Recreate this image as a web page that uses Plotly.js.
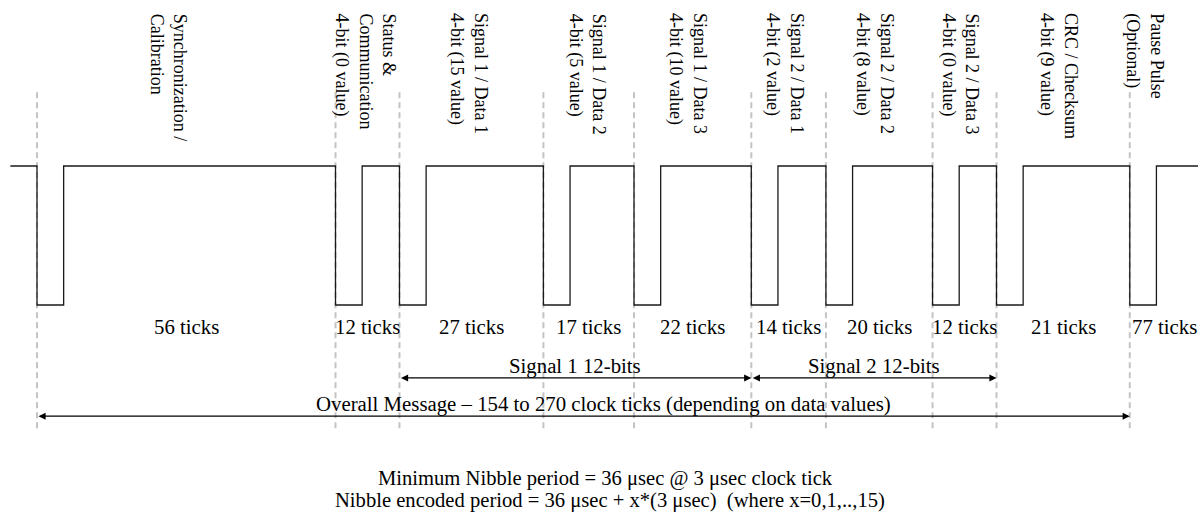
<!DOCTYPE html>
<html>
<head>
<meta charset="utf-8">
<script src="https://cdn.plot.ly/plotly-3.0.1.min.js"></script>
<style>html,body{margin:0;padding:0;background:#fff;}#chart{width:1198px;height:517px;}</style>
</head>
<body>
<div id="chart"></div>
<script>
// ---- data ----
// nibble names (rotated labels above each slot)
const slotNames = [
  "Synchronization /<br>Calibration",
  "Status &amp;<br>Communication<br>4-bit (0 value)",
  "Signal 1 / Data 1<br>4-bit (15 value)",
  "Signal 1 / Data 2<br>4-bit (5 value)",
  "Signal 1 / Data 3<br>4-bit (10 value)",
  "Signal 2 / Data 1<br>4-bit (2 value)",
  "Signal 2 / Data 2<br>4-bit (8 value)",
  "Signal 2 / Data 3<br>4-bit (0 value)",
  "CRC / Checksum<br>4-bit (9 value)",
  "Pause Pulse<br>(Optional)"
];
// clock ticks written under each slot
const slotTicks = [56, 12, 27, 17, 22, 14, 20, 12, 21, 77];
// slot widths as drawn in the figure, in ticks (CRC slot is drawn wider than 21)
const drawnWidth = [56, 12, 27, 17, 22, 14, 20, 12, 25];
const lowPulseTicks = 5;   // low part of each falling-edge pulse
const leadInTicks = 5;     // idle high before the first pulse
// arrows: [start slot index, end slot index, label]
const spanStart = [2, 5, 0];
const spanEnd = [5, 8, 9];
const spanLabel = ["Signal 1 12-bits", "Signal 2 12-bits",
  "Overall Message – 154 to 270 clock ticks (depending on data values)"];
const footnote = ["Minimum Nibble period = 36 μsec @ 3 μsec clock tick",
  "Nibble encoded period = 36 μsec + x*(3 μsec)  (where x=0,1,..,15)"];

// ---- geometry ----
const HIGH = 1, LOW = 0;
const bounds = [0];
drawnWidth.forEach(w => bounds.push(bounds[bounds.length - 1] + w));
const XMAX = 217.8;

// signal waveform
const sx = [-leadInTicks], sy = [HIGH];
bounds.forEach(b => {
  sx.push(b, b, b + lowPulseTicks, b + lowPulseTicks);
  sy.push(HIGH, LOW, LOW, HIGH);
});
sx.push(XMAX + 5); sy.push(HIGH);

const traces = [{
  x: sx, y: sy, type: 'scatter', mode: 'lines',
  line: {color: '#1a1a1a', width: 1.3}, hoverinfo: 'skip', showlegend: false
}];

const shapes = bounds.map(b => ({
  type: 'line', xref: 'x', yref: 'y', x0: b, x1: b, y0: 1.53, y1: -0.9,
  line: {color: '#c4c4c4', width: 2, dash: '6px,4px'}, layer: 'below'
}));

const serif = 'Liberation Serif, Times New Roman, serif';
const BIG = 20.8;
const annotations = [];
// rotated slot labels
const labelShift = [-3.4, -0.5, -0.5, -0.3, -0.9, -0.7, -0.8, -0.8, -0.9];
slotNames.forEach((t, i) => {
  const cx = i < drawnWidth.length ? (bounds[i] + bounds[i + 1]) / 2 + labelShift[i] : bounds[i] + 2.7;
  annotations.push({
    x: cx, xref: 'x', y: 0.978, yref: 'paper', text: t, textangle: 90,
    showarrow: false, xanchor: 'center', yanchor: 'top', align: 'left',
    font: {family: serif, size: 18, color: '#000'}
  });
});
// tick counts
slotTicks.forEach((n, i) => {
  const last = i >= drawnWidth.length;
  annotations.push({
    x: last ? bounds[i] : (bounds[i] + bounds[i + 1]) / 2, xref: 'x', y: -0.158, yref: 'y',
    text: n + ' ticks', showarrow: false, xanchor: last ? 'left' : 'center', yanchor: 'middle',
    font: {family: serif, size: BIG, color: '#000'}
  });
});
// span arrows
const arrowY = [-0.525, -0.525, -0.80];
const spanTextShift = [0, 0, 3.7];
spanLabel.forEach((t, i) => {
  const a = bounds[spanStart[i]], b = bounds[spanEnd[i]];
  annotations.push({
    x: b, y: arrowY[i], xref: 'x', yref: 'y', ax: a, ay: arrowY[i], axref: 'x', ayref: 'y',
    text: '', showarrow: true, arrowhead: 2, startarrowhead: 2, arrowside: 'end+start',
    arrowsize: 1.1, startarrowsize: 1.1, arrowwidth: 1.3, arrowcolor: '#000', standoff: 0, startstandoff: 0
  });
  annotations.push({
    x: (a + b) / 2 + spanTextShift[i], y: arrowY[i] + 0.086, xref: 'x', yref: 'y', text: t, showarrow: false,
    xanchor: 'center', yanchor: 'middle', font: {family: serif, size: BIG, color: '#000'}
  });
});
// footnote
footnote.forEach((t, i) => {
  annotations.push({
    x: 0.5 + (6 + 5 * i) / 1198, xref: 'paper', y: 1 - (478 + 22 * i) / 517, yref: 'paper', text: t, showarrow: false,
    xanchor: 'center', yanchor: 'middle', font: {family: serif, size: 20.6, color: '#000'}
  });
});

const layout = {
  width: 1198, height: 517,
  margin: {l: 0, r: 0, t: 0, b: 0, pad: 0},
  paper_bgcolor: '#fff', plot_bgcolor: '#fff',
  showlegend: false,
  xaxis: {range: [-6.94, XMAX], visible: false, fixedrange: true},
  yaxis: {range: [-1.5252, 2.1942], visible: false, fixedrange: true},
  shapes: shapes,
  annotations: annotations
};
Plotly.newPlot('chart', traces, layout, {displayModeBar: false, staticPlot: true});
</script>
</body>
</html>
